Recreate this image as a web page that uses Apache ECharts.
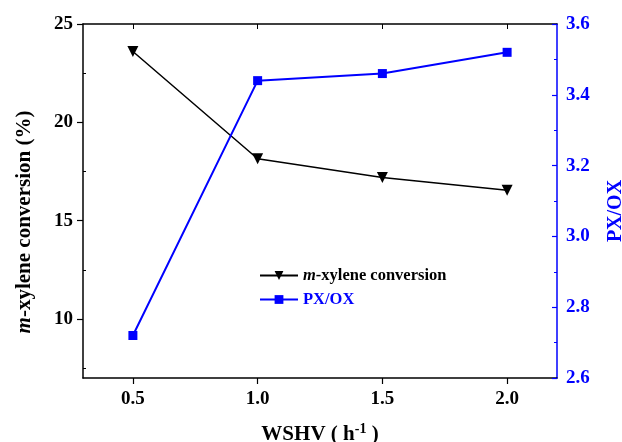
<!DOCTYPE html>
<html><head><meta charset="utf-8">
<script src="https://cdn.jsdelivr.net/npm/echarts@6/dist/echarts.min.js"></script>
<style>html,body{margin:0;padding:0;background:#fff}#c{width:622px;height:442px}</style>
</head><body><div id="c"></div>
<script>
const wshv = [0.5, 1.0, 1.5, 2.0];
const conversion = [23.6, 18.15, 17.2, 16.55];
const pxox = [2.72, 3.44, 3.46, 3.52];
const xTicks = [0.5, 1.0, 1.5, 2.0];
const leftTicks = [10, 15, 20, 25];
const leftMinor = [7.5, 12.5, 17.5, 22.5];
const rightTicks = [2.6, 2.8, 3.0, 3.2, 3.4, 3.6];
const rightMinor = [2.7, 2.9, 3.1, 3.3, 3.5];

const F = '"Liberation Serif", "Times New Roman", serif';
const chart = echarts.init(document.getElementById('c'));
const lab = {fontFamily: F, fontWeight: 'bold', fontSize: 19};
chart.setOption({
  animation: false,
  grid: {left: 83, right: 65, top: 24, bottom: 64, outerBoundsMode: 'none', containLabel: false},
  legend: {
    orient: 'vertical', left: 254, top: 262, itemWidth: 38, itemHeight: 11, itemGap: 7,
    textStyle: {fontFamily: F, fontWeight: 'bold', fontSize: 16.5, rich: {i: {fontFamily: F, fontWeight: 'bold', fontStyle: 'italic', fontSize: 16.5}}},
    formatter: function (n) { return n === 'conv' ? '{i|m}-xylene conversion' : n; },
    data: [{name: 'conv', textStyle: {color: '#000'}}, {name: 'PX/OX', textStyle: {color: '#0000ff'}}]
  },
  xAxis: [{
    type: 'value', min: 0.3, max: 2.2, position: 'bottom',
    axisLine: {lineStyle: {color: '#000', width: 1.5}},
    axisTick: {customValues: xTicks, length: 6, lineStyle: {color: '#000', width: 1.2}},
    axisLabel: Object.assign({customValues: xTicks, color: '#000', margin: 12, formatter: v => v.toFixed(1)}, lab),
    splitLine: {show: false},
    name: 'WSHV ( h{s|-1} )', nameLocation: 'middle', nameGap: 44,
    nameTextStyle: {color: '#000', fontFamily: F, fontWeight: 'bold', fontSize: 21, rich: {s: {fontFamily: F, fontWeight: 'bold', fontSize: 14, verticalAlign: 'top', padding: [0, 0, 12, 0]}}}
  }, {
    type: 'value', min: 0.3, max: 2.2, position: 'top',
    axisLine: {lineStyle: {color: '#000', width: 1.5}},
    axisTick: {inside: true, customValues: xTicks, length: 5, lineStyle: {color: '#000', width: 1}},
    axisLabel: {show: false}, splitLine: {show: false}
  }],
  yAxis: [{
    type: 'value', min: 7, max: 25, position: 'left',
    axisLine: {show: true, lineStyle: {color: '#000', width: 1.5}},
    axisTick: {show: true, customValues: leftTicks, length: 6, lineStyle: {color: '#000', width: 1.2}},
    axisLabel: Object.assign({customValues: leftTicks, color: '#000', margin: 10}, lab),
    splitLine: {show: false},
    name: '{i|m}-xylene conversion (%)', nameLocation: 'middle', nameGap: 48, nameRotate: 90,
    nameTextStyle: {color: '#000', fontFamily: F, fontWeight: 'bold', fontSize: 21, padding: [0, 42, 0, 0],
      rich: {i: {fontFamily: F, fontWeight: 'bold', fontStyle: 'italic', fontSize: 21}}}
  }, {
    type: 'value', min: 2.6, max: 3.6, position: 'right',
    axisLine: {show: true, lineStyle: {color: '#0000ff', width: 1.5}},
    axisTick: {show: true, inside: true, customValues: rightTicks, length: 5, lineStyle: {color: '#0000ff', width: 1.2}},
    axisLabel: Object.assign({customValues: rightTicks, color: '#0000ff', margin: 9, formatter: v => v.toFixed(1)}, lab),
    splitLine: {show: false},
    name: 'PX/OX', nameLocation: 'middle', nameGap: 49, nameRotate: 90,
    nameTextStyle: {color: '#0000ff', fontFamily: F, fontWeight: 'bold', fontSize: 20, padding: [0, 20, 0, 0]}
  }, {
    type: 'value', min: 7, max: 25, position: 'left',
    axisLine: {show: false},
    axisTick: {show: true, inside: true, customValues: leftMinor, length: 3, lineStyle: {color: '#000', width: 1}},
    axisLabel: {show: false}, splitLine: {show: false}
  }, {
    type: 'value', min: 2.6, max: 3.6, position: 'right',
    axisLine: {show: false},
    axisTick: {show: true, inside: true, customValues: rightMinor, length: 3, lineStyle: {color: '#0000ff', width: 1}},
    axisLabel: {show: false}, splitLine: {show: false}
  }],
  series: [{
    name: 'conv', type: 'line', xAxisIndex: 0, yAxisIndex: 0,
    data: wshv.map((x, i) => [x, conversion[i]]),
    symbol: 'triangle', symbolRotate: 180, symbolSize: 11,
    lineStyle: {color: '#000', width: 1.5}, itemStyle: {color: '#000'}
  }, {
    name: 'PX/OX', type: 'line', xAxisIndex: 0, yAxisIndex: 1,
    data: wshv.map((x, i) => [x, pxox[i]]),
    symbol: 'rect', symbolSize: 9,
    lineStyle: {color: '#0000ff', width: 2}, itemStyle: {color: '#0000ff'}
  }]
});
</script></body></html>
